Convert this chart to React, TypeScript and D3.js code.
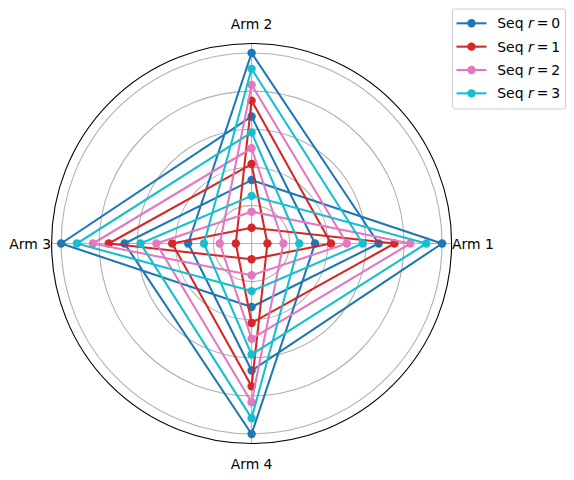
import React from "react";
import * as d3 from "d3";

// Arm labels (counter-clockwise from the right)
const arms = ["Arm 1", "Arm 2", "Arm 3", "Arm 4"];

// Series values, one per step; step i sits on arm (i mod 4)
const seqR0 = [0.333, 0.667, 1.0, 0.333, 0.667, 1.0, 0.333, 0.667, 1.0, 0.333, 0.667, 1.0];
const seqR1 = [0.083, 0.417, 0.75, 0.083, 0.417, 0.75, 0.083, 0.417, 0.75, 0.083, 0.417, 0.75];
const seqR2 = [0.167, 0.5, 0.833, 0.167, 0.5, 0.833, 0.167, 0.5, 0.833, 0.167, 0.5, 0.833];
const seqR3 = [0.25, 0.583, 0.917, 0.25, 0.583, 0.917, 0.25, 0.583, 0.917, 0.25, 0.583, 0.917];

const seriesLabels = ["0", "1", "2", "3"];
const seriesColors = ["#1f77b4", "#d62728", "#e377c2", "#17becf"];
const seriesValues = [seqR0, seqR1, seqR2, seqR3];

const radialTicks = [0.2, 0.4, 0.6, 0.8, 1.0];

const W = 574;
const H = 480;
const cx = 251.6;
const cy = 243.5;
const R = 200;
const FONT = "DejaVu Sans, sans-serif";
const FS = 13.9;

export default function App() {
  const r = d3.scaleLinear().domain([0, 1.05]).range([0, R]);
  // d3 radial angle: clockwise from 12 o'clock; arm k at math angle k*90°
  const armAngle = (k: number) => Math.PI / 2 - (k * Math.PI) / 2;
  const line = d3
    .lineRadial<number>()
    .angle((_d, i) => armAngle(i % 4))
    .radius((d) => r(d))
    .curve(d3.curveLinearClosed);
  const px = (k: number, v: number) => cx + r(v) * Math.cos((k * Math.PI) / 2);
  const py = (k: number, v: number) => cy - r(v) * Math.sin((k * Math.PI) / 2);

  return (
    <svg
      width={W}
      height={H}
      style={{ position: "absolute", left: 0, top: 0, background: "#fff" }}
      fontFamily={FONT}
    >
      {/* grid circles */}
      {radialTicks.map((t) => (
        <circle key={t} cx={cx} cy={cy} r={r(t)} fill="none" stroke="#b0b0b0" strokeWidth={1.1} />
      ))}
      {/* radial grid lines */}
      {arms.map((_a, k) => (
        <line
          key={k}
          x1={cx}
          y1={cy}
          x2={px(k, 1.05)}
          y2={py(k, 1.05)}
          stroke="#b0b0b0"
          strokeWidth={1.1}
        />
      ))}
      {/* series */}
      {seriesValues.map((vals, s) => (
        <g key={s}>
          <path
            d={line(vals) || ""}
            transform={`translate(${cx},${cy})`}
            fill="none"
            stroke={seriesColors[s]}
            strokeWidth={2.08}
            strokeLinejoin="round"
          />
          {vals.map((v, i) => (
            <circle key={i} cx={px(i % 4, v)} cy={py(i % 4, v)} r={4.2} fill={seriesColors[s]} />
          ))}
        </g>
      ))}
      {/* spine */}
      <circle cx={cx} cy={cy} r={R} fill="none" stroke="#000" strokeWidth={1.1} />
      {/* arm labels */}
      <text x={cx + R + 0.5} y={cy + 5} fontSize={FS} textAnchor="start">
        {arms[0]}
      </text>
      <text x={cx} y={cy - R - 15} fontSize={FS} textAnchor="middle">
        {arms[1]}
      </text>
      <text x={cx - R - 0.5} y={cy + 5} fontSize={FS} textAnchor="end">
        {arms[2]}
      </text>
      <text x={cx} y={cy + R + 25} fontSize={FS} textAnchor="middle">
        {arms[3]}
      </text>
      {/* legend */}
      <rect x={452.5} y={9} width={113} height={100} rx={3} fill="#fff" fillOpacity={0.8} stroke="#cccccc" strokeWidth={1} />
      {seriesLabels.map((lab, s) => {
        const y = 23.3 + s * 23.35;
        return (
          <g key={lab}>
            <line x1={456.5} x2={486.5} y1={y} y2={y} stroke={seriesColors[s]} strokeWidth={2.08} />
            <circle cx={471.5} cy={y} r={4.2} fill={seriesColors[s]} />
            <text x={497.3} y={y + 5} fontSize={FS}>
              Seq{" "}
              <tspan fontStyle="italic">r</tspan>
              <tspan dx={3}>=</tspan>
              <tspan dx={3}>{lab}</tspan>
            </text>
          </g>
        );
      })}
    </svg>
  );
}
